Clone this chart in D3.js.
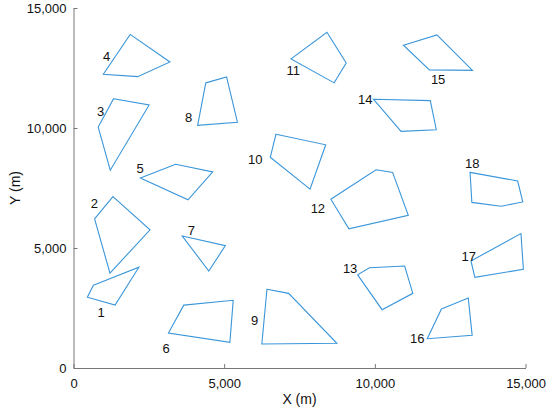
<!DOCTYPE html>
<html>
<head>
<meta charset="utf-8">
<script src="https://cdn.jsdelivr.net/npm/d3@7/dist/d3.min.js"></script>
<style>
  body { margin: 0; background: #fff; }
  svg { display: block; font-family: "Liberation Sans", Arial, sans-serif; }
</style>
</head>
<body>
<svg id="chart" width="550" height="416"></svg>
<script>
// Polygon vertices (m)
const polygons = [
  [[660, 3450], [2170, 4200], [1380, 2620], [460, 2950]],
  [[1310, 7140], [2540, 5760], [1210, 3950], [700, 6210]],
  [[1330, 11220], [2510, 10960], [1220, 8240], [820, 10040]],
  [[1880, 13900], [3200, 12750], [2130, 12140], [990, 12240]],
  [[2220, 7920], [3390, 8490], [4620, 8170], [3800, 7010]],
  [[3660, 2620], [5300, 2820], [5190, 1070], [3150, 1460]],
  [[3610, 5500], [5040, 5100], [4490, 4040]],
  [[4390, 11880], [5080, 12130], [5440, 10240], [4120, 10110]],
  [[6420, 3280], [7140, 3110], [8740, 1030], [6250, 1000]],
  [[6720, 9740], [8370, 9300], [7850, 7450], [6530, 8780]],
  [[8410, 13990], [9050, 12710], [8650, 11880], [7220, 12880]],
  [[10040, 8260], [10590, 8150], [11110, 6360], [9140, 5800], [8540, 7030]],
  [[9820, 4180], [10990, 4250], [11260, 3110], [10240, 2430], [9430, 3880]],
  [[9950, 11200], [11840, 11140], [12040, 9930], [10870, 9860]],
  [[10950, 13450], [12060, 13880], [13240, 12400], [11810, 12420]],
  [[12210, 2460], [13100, 2920], [13230, 1360], [11740, 1220]],
  [[14850, 5600], [14930, 4110], [13320, 3780], [13190, 4460]],
  [[13160, 8150], [14740, 7790], [14910, 6920], [14190, 6740], [13220, 6900]]
];

// Label anchor for each polygon number (m)
const labelPos = [
  [920, 2330], [690, 6860], [900, 10680], [1100, 13000], [2210, 8320],
  [3070, 820], [3910, 5750], [3820, 10450], [6010, 1960], [6030, 8700],
  [7290, 12380], [8110, 6650], [9180, 4150], [9680, 11170], [12100, 12040],
  [11410, 1250], [13120, 4640], [13230, 8530]
];

const xTicks = [0, 5000, 10000, 15000];
const yTicks = [0, 5000, 10000, 15000];

const svg = d3.select('#chart');
const margin = { left: 73.5, right: 24.5, top: 8, bottom: 48 };
const width = 550, height = 416;

const x = d3.scaleLinear().domain([0, 15000]).range([margin.left, width - margin.right]);
const y = d3.scaleLinear().domain([0, 15000]).range([height - margin.bottom, margin.top]);

const fmt = d3.format(',');
const axisColor = '#777';

// X axis, ticks pointing inward
const gx = svg.append('g')
  .attr('transform', `translate(0,${y(0)})`)
  .call(d3.axisBottom(x).tickValues(xTicks).tickFormat(fmt).tickSizeInner(-4).tickSizeOuter(0).tickPadding(11));
// Y axis
const gy = svg.append('g')
  .attr('transform', `translate(${x(0)},0)`)
  .call(d3.axisLeft(y).tickValues(yTicks).tickFormat(fmt).tickSizeInner(-4).tickSizeOuter(0).tickPadding(7));

[gx, gy].forEach(g => {
  g.select('.domain').attr('stroke', axisColor);
  g.selectAll('.tick line').attr('stroke', axisColor);
  g.selectAll('.tick text').attr('fill', '#111').style('font-size', '13px')
    .style('font-family', '"Liberation Sans", Arial, sans-serif');
});

// axis titles
svg.append('text')
  .attr('x', (x(0) + x(15000)) / 2).attr('y', 404)
  .attr('text-anchor', 'middle')
  .style('font-size', '14px').attr('fill', '#111')
  .text('X (m)');

svg.append('text')
  .attr('transform', `translate(15,${(y(0) + y(15000)) / 2}) rotate(-90)`)
  .attr('text-anchor', 'middle')
  .attr('dominant-baseline', 'central')
  .style('font-size', '14px').attr('fill', '#111')
  .text('Y (m)');

// polygons
const line = d3.line().x(d => x(d[0])).y(d => y(d[1])).curve(d3.curveLinearClosed);

svg.append('g').selectAll('path')
  .data(polygons)
  .enter().append('path')
  .attr('d', line)
  .attr('fill', 'none')
  .attr('stroke', '#3a96da')
  .attr('stroke-width', 1.1);

// polygon numbers
svg.append('g').selectAll('text')
  .data(labelPos)
  .enter().append('text')
  .attr('x', d => x(d[0]))
  .attr('y', d => y(d[1]))
  .attr('text-anchor', 'middle')
  .attr('dominant-baseline', 'central')
  .style('font-size', '13px')
  .attr('fill', '#111')
  .text((d, i) => i + 1);
</script>
</body>
</html>
